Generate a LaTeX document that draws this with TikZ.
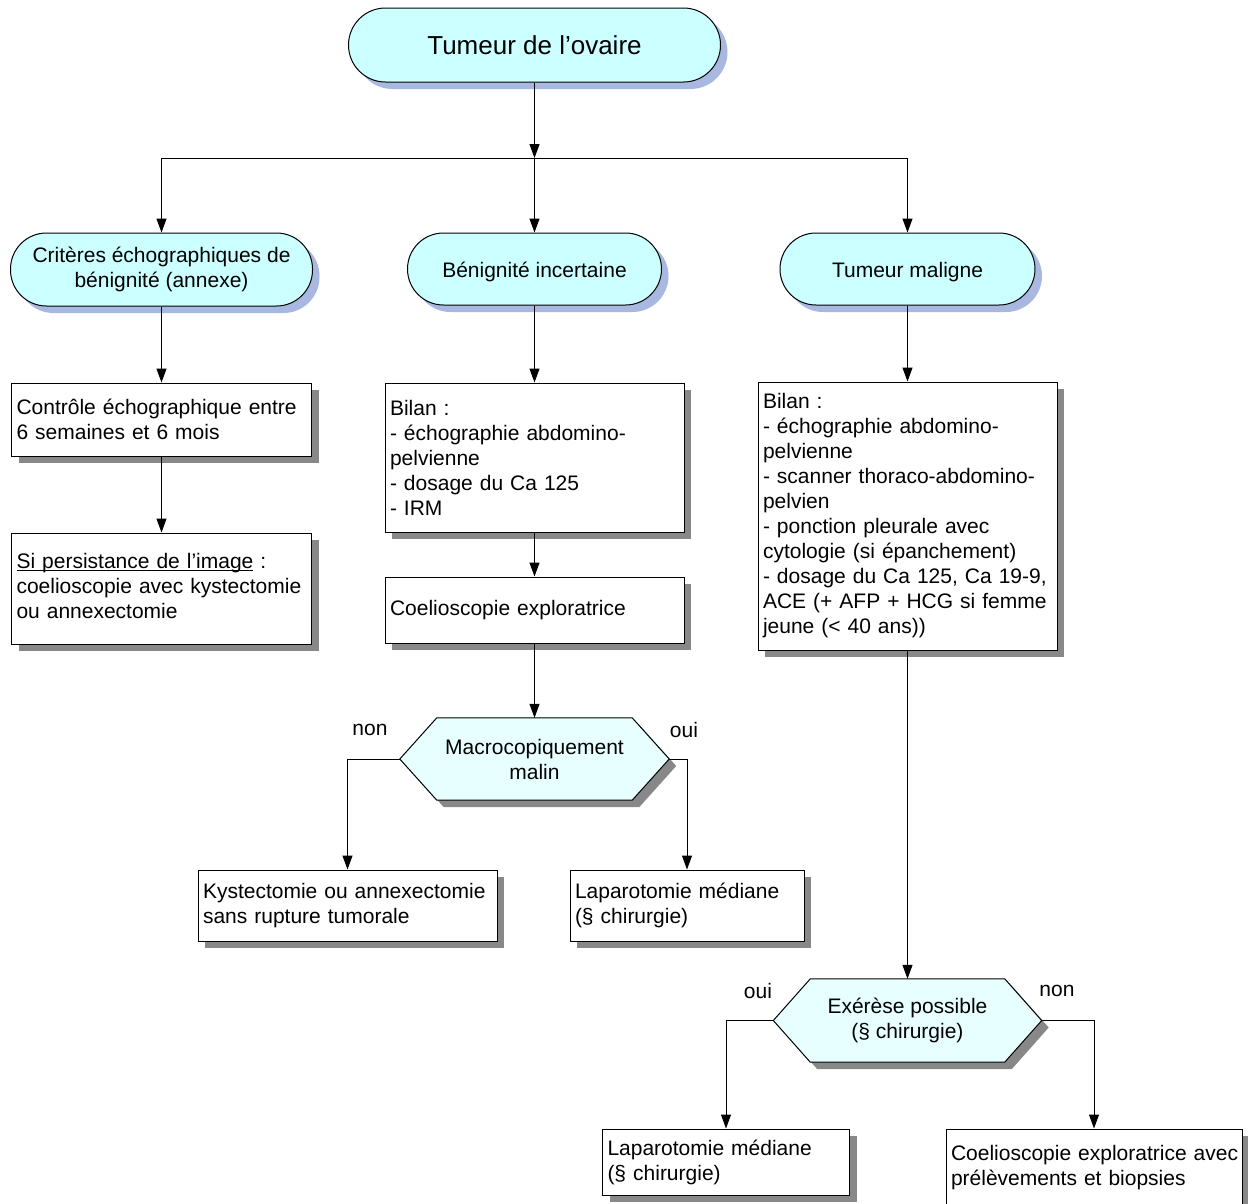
\documentclass[tikz,border=0pt]{standalone}
\usepackage{fontspec}
\setmainfont{Liberation Sans}
\usetikzlibrary{arrows.meta,shadows,backgrounds}
\definecolor{termfill}{RGB}{204,255,255}
\definecolor{hexfill}{RGB}{232,255,255}
\definecolor{termshadow}{RGB}{168,184,224}
\definecolor{boxshadow}{RGB}{136,136,136}
\newcommand\fs{\fontsize{21}{25}\selectfont}
\newcommand\fsbig{\fontsize{26}{30}\selectfont}
\newcommand\myul[1]{\underline{\smash{#1}}}
\newcommand\hexpath[2]{([shift={#2}]#1.west) -- ([shift={#2},xshift=37pt]#1.north west) -- ([shift={#2},xshift=-37pt]#1.north east) -- ([shift={#2}]#1.east) -- ([shift={#2},xshift=-37pt]#1.south east) -- ([shift={#2},xshift=37pt]#1.south west) -- cycle}
\begin{document}
\begin{tikzpicture}[x=1pt,y=-1pt,
  ln/.style={line width=1pt, draw=black},
  arr/.style={line width=1pt, draw=black, -{Triangle[length=14pt,width=10pt]}},
  term/.style={draw, line width=1pt, fill=termfill, rounded corners=36pt, font=\fs, align=center, inner sep=0pt,
    drop shadow={shadow xshift=7pt, shadow yshift=-7pt, opacity=1, fill=termshadow, draw=none}},
  lowtext/.style={execute at begin node={\rule{0pt}{21.5pt}}},
  box/.style={draw, line width=1pt, fill=white, font=\fs, align=left, inner xsep=5pt, inner ysep=0pt,
    drop shadow={shadow xshift=7pt, shadow yshift=-7pt, opacity=1, fill=boxshadow, draw=none}},
  hex/.style={font=\fs, align=center, inner sep=0pt},
  lbl/.style={font=\fs, inner sep=0pt}]
\useasboundingbox (0,0) rectangle (1248,1203);
\begin{scope}[on background layer]
  \fill[white] (0,0) rectangle (1248,1203);
\end{scope}

% terminals
\node[term, minimum width=372pt, minimum height=74pt, rounded corners=37pt, font=\fsbig] (title) at (534.5,45) {Tumeur de l’ovaire};
\node[term, lowtext, minimum width=302pt, minimum height=73pt] (crit) at (161.5,269.5) {Critères échographiques de\\bénignité (annexe)};
\node[term, lowtext, minimum width=254pt, minimum height=72pt] (benin) at (534.5,269) {Bénignité incertaine};
\node[term, lowtext, minimum width=255pt, minimum height=72pt] (malign) at (907.5,269) {Tumeur maligne};

% left column
\node[box, text width=290pt, minimum height=73pt] (ctrl) at (161.5,419.5) {Contrôle échographique entre\\6 semaines et 6 mois};
\node[box, text width=290pt, minimum height=111pt] (pers) at (161.5,588.5) {\myul{Si persistance de l’image} :\\coelioscopie avec kystectomie\\ou annexectomie};

% middle column
\node[box, text width=289pt, minimum height=149pt] (bil1) at (534.5,457.5) {Bilan :\\- échographie abdomino-\\pelvienne\\- dosage du Ca 125\\- IRM};
\node[box, text width=289pt, minimum height=66pt] (coel1) at (534.5,610) {Coelioscopie exploratrice};
\node[hex, minimum width=269pt, minimum height=82pt] (h1) at (534.5,759) {Macrocopiquement\\malin};
\node[box, text width=289pt, minimum height=71pt] (kyst) at (347.5,905.5) {Kystectomie ou annexectomie\\sans rupture tumorale};
\node[box, text width=224pt, minimum height=71pt] (lap1) at (687,905.5) {Laparotomie médiane\\(§ chirurgie)};
\node[lbl] (non1) at (370,730) {non};
\node[lbl] (oui1) at (684,730) {oui};

% right column
\node[box, text width=289pt, minimum height=268pt] (bil2) at (907.5,516) {Bilan :\\- échographie abdomino-\\pelvienne\\- scanner thoraco-abdomino-\\pelvien\\- ponction pleurale avec\\cytologie (si épanchement)\\- dosage du Ca 125, Ca 19-9,\\ACE (+ AFP + HCG si femme\\jeune (< 40 ans))};
\node[hex, minimum width=268pt, minimum height=83pt] (h2) at (907.5,1020.5) {Exérèse possible\\(§ chirurgie)};
\node[box, text width=237pt, minimum height=66pt] (lap2) at (726,1162) {Laparotomie médiane\\(§ chirurgie)};
\node[box, text width=286pt, minimum height=78pt] (coel2) at (1094,1168) {\mbox{Coelioscopie exploratrice avec}\\prélèvements et biopsies};
\node[lbl] (oui2) at (758,991) {oui};
\node[lbl] (non2) at (1057,991) {non};

% hexagon outlines
\begin{scope}[on background layer]
  \fill[boxshadow] \hexpath{h1}{(7pt,-7pt)};
  \draw[ln, fill=hexfill] \hexpath{h1}{(0pt,0pt)};
  \fill[boxshadow] \hexpath{h2}{(7pt,-7pt)};
  \draw[ln, fill=hexfill] \hexpath{h2}{(0pt,0pt)};
\end{scope}

% connectors
\coordinate (split) at (534.5,158);
\coordinate (sl) at (161.5,158);
\coordinate (sr) at (907.5,158);
\draw[arr] (title.south) -- (split);
\draw[ln] (sl) -- (sr);
\draw[arr] (sl) -- (crit.north);
\draw[arr] (split) -- (benin.north);
\draw[arr] (sr) -- (malign.north);
\draw[arr] (crit) -- (ctrl);
\draw[arr] (ctrl) -- (pers);
\draw[arr] (benin) -- (bil1);
\draw[arr] (bil1) -- (coel1);
\draw[arr] (coel1) -- (h1.north);
\draw[arr] (h1.west) -| (kyst.north);
\draw[arr] (h1.east) -| (lap1.north);
\draw[arr] (malign) -- (bil2);
\draw[arr] (bil2) -- (h2.north);
\draw[arr] (h2.west) -| (lap2.north);
\draw[arr] (h2.east) -| (coel2.north);
\end{tikzpicture}
\end{document}
